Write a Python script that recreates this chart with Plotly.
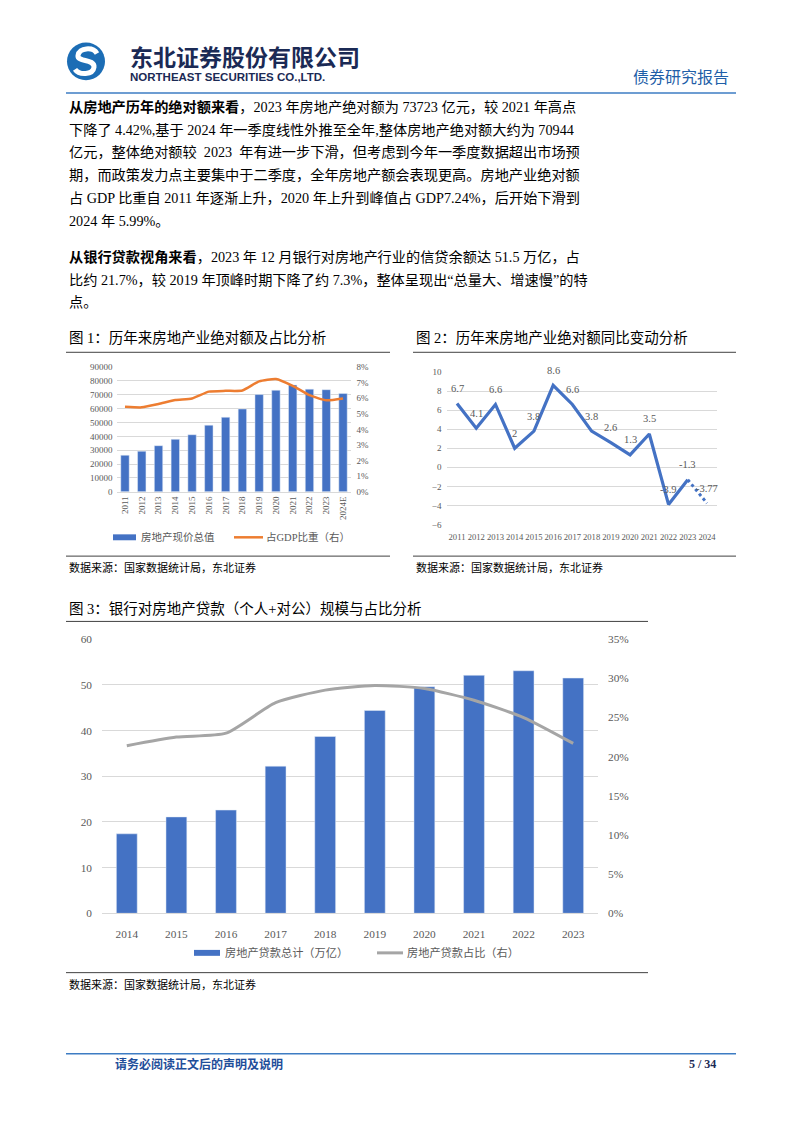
import plotly.graph_objects as go

W, H = 802, 1133

# ---------------- data ----------------
years1 = ["2011", "2012", "2013", "2014", "2015", "2016", "2017", "2018",
          "2019", "2020", "2021", "2022", "2023", "2024E"]
value1 = [26400, 29300, 33300, 37900, 41200, 48100, 53800, 59800,
          70200, 73300, 77130, 74100, 73723, 70944]
share1 = [5.46, 5.42, 5.63, 5.89, 5.99, 6.43, 6.48, 6.50,
          7.09, 7.24, 6.80, 6.20, 5.87, 5.99]

years2 = ["2011", "2012", "2013", "2014", "2015", "2016", "2017", "2018",
          "2019", "2020", "2021", "2022", "2023", "2024"]
yoy2 = [6.7, 4.1, 6.6, 2, 3.8, 8.6, 6.6, 3.8, 2.6, 1.3, 3.5, -3.9, -1.3, -3.77]
yoy2_labels = ["6.7", "4.1", "6.6", "2", "3.8", "8.6", "6.6", "3.8", "2.6",
               "1.3", "3.5", "-3.9", "-1.3", "-3.77"]

years3 = ["2014", "2015", "2016", "2017", "2018", "2019", "2020", "2021",
          "2022", "2023"]
loan3 = [17.4, 21.1, 22.6, 32.2, 38.7, 44.4, 49.6, 52.1, 53.1, 51.5]
share3 = [21.4, 22.5, 23.0, 26.9, 28.5, 29.1, 28.7, 27.2, 25.0, 21.7]

SERIF = "Liberation Serif, Noto Sans CJK SC, serif"
CJK = "Noto Sans CJK SC, sans-serif"
BLUE = "#4472C4"
ORANGE = "#ED7D31"
GRAY = "#A5A5A5"
TICK = "#595959"
GRID = "#D9D9D9"


def px(x):
    return x / W


def py(y):
    return 1 - y / H


fig = go.Figure()

# ---- chart 1 ----
fig.add_trace(go.Bar(x=years1, y=value1, marker_color=BLUE, width=0.5,
                     xaxis="x", yaxis="y", name="房地产现价总值"))
fig.add_trace(go.Scatter(x=years1, y=share1, mode="lines",
                         line=dict(color=ORANGE, width=2.5, shape="spline", smoothing=0.5),
                         xaxis="x", yaxis="y2", name="占GDP比重（右）"))

# ---- chart 2 ----
fig.add_trace(go.Scatter(x=years2[:13], y=yoy2[:13], mode="lines",
                         line=dict(color=BLUE, width=3.2),
                         xaxis="x2", yaxis="y3"))
fig.add_trace(go.Scatter(x=years2[12:], y=yoy2[12:], mode="lines",
                         line=dict(color=BLUE, width=3, dash="dot"),
                         xaxis="x2", yaxis="y3"))

# ---- chart 3 ----
fig.add_trace(go.Bar(x=years3, y=loan3, marker_color=BLUE, width=0.42,
                     xaxis="x3", yaxis="y4", name="房地产贷款总计（万亿）"))
fig.add_trace(go.Scatter(x=years3, y=share3, mode="lines",
                         line=dict(color=GRAY, width=3, shape="spline", smoothing=0.6),
                         xaxis="x3", yaxis="y5", name="房地产贷款占比（右）"))

tick9 = dict(size=9, color=TICK, family=SERIF)
tick11 = dict(size=11.3, color=TICK, family=SERIF)

fig.update_layout(
    width=W, height=H, margin=dict(l=0, r=0, t=0, b=0),
    paper_bgcolor="white", plot_bgcolor="white", showlegend=False,
    font=dict(family=SERIF, color=TICK),
    xaxis=dict(domain=[px(116.6), px(351.4)], anchor="y", type="category",
               tickangle=-90, tickfont=tick9, showgrid=False, showline=True,
               linecolor=GRID, ticks=""),
    yaxis=dict(domain=[py(491), py(365)], anchor="x", range=[0, 90000], dtick=10000,
               gridcolor=GRID, tickfont=tick9, zeroline=False, showline=False,
               tickformat="d", ticklabelstandoff=3),
    yaxis2=dict(overlaying="y", side="right", anchor="x", range=[0, 8], dtick=1,
                ticksuffix="%", showgrid=False, tickfont=tick9, zeroline=False,
                ticklabelstandoff=4),
    xaxis2=dict(domain=[px(447.4), px(716.6)], anchor="y3", type="category",
                categoryorder="array", categoryarray=years2,
                range=[-0.5, len(years2) - 0.5], autorange=False,
                tickangle=0, tickfont=dict(size=8.6, color=TICK, family=SERIF),
                showgrid=False, showline=False, ticks="", ticklabelstandoff=6),
    yaxis3=dict(domain=[py(524), py(370)], anchor="x2", range=[-6, 10], dtick=2,
                gridcolor=GRID, tickfont=tick9, zeroline=False, ticklabelstandoff=5),
    xaxis3=dict(domain=[px(102), px(598)], anchor="y4", type="category",
                tickfont=tick11, showgrid=False, showline=True, linecolor=GRID, ticks="",
                ticklabelstandoff=10),
    yaxis4=dict(domain=[py(917), py(640)], anchor="x3", range=[0, 60], dtick=10,
                gridcolor=GRID, tickfont=tick11, zeroline=False, ticklabelstandoff=9),
    yaxis5=dict(overlaying="y4", side="right", anchor="x3", range=[0, 35], dtick=5,
                ticksuffix="%", showgrid=False, tickfont=tick11, zeroline=False,
                ticklabelstandoff=9),
)

shapes = []
ann = []

# chart 2 data labels (x given as category index on the category axis)
for i, (yv, lab) in enumerate(zip(yoy2, yoy2_labels)):
    ann.append(dict(x=i, y=yv, xref="x2", yref="y3", text=lab, showarrow=False,
                    xanchor="center", yanchor="middle", yshift=15,
                    font=dict(size=10.5, color=TICK, family=SERIF)))


def hline(x0, x1, y, color, width):
    shapes.append(dict(type="line", xref="paper", yref="paper",
                       x0=px(x0), x1=px(x1), y0=py(y), y1=py(y),
                       line=dict(color=color, width=width)))


def rect(x0, y0, x1, y1, color):
    shapes.append(dict(type="rect", xref="paper", yref="paper",
                       x0=px(x0), x1=px(x1), y0=py(y0), y1=py(y1),
                       line=dict(width=0), fillcolor=color))


def txt(x, y, s, size, color="#000000", family=SERIF, anchor="left"):
    ann.append(dict(x=px(x), y=py(y), xref="paper", yref="paper", text=s,
                    showarrow=False, xanchor=anchor, yanchor="middle",
                    font=dict(size=size, color=color, family=family)))


# ---- header ----
shapes.append(dict(type="circle", xref="paper", yref="paper",
                   x0=px(67), x1=px(105), y0=py(37), y1=py(75),
                   fillcolor="#1C6DB5", line=dict(width=0)))


def path(points):
    d = "M {:.5f},{:.5f}".format(px(points[0][0]), py(points[0][1]))
    rest = points[1:]
    for i in range(0, len(rest), 3):
        seg = rest[i:i + 3]
        d += " C " + " ".join("{:.5f},{:.5f}".format(px(a), py(b)) for a, b in seg)
    return d


shapes.append(dict(type="path", xref="paper", yref="paper",
                   path=path([(97, 48), (93, 41), (79, 42), (78, 50),
                              (77, 57), (95, 53), (94, 62),
                              (93, 70), (79, 70), (75, 64)]),
                   line=dict(color="white", width=5)))
txt(128, 51, "<b>东北证券股份有限公司</b>", 23, "#1B2A55", CJK)
txt(128, 72, "<b>NORTHEAST SECURITIES CO.,LTD.</b>", 11.5, "#1B2A55",
    "Liberation Sans, Arial, sans-serif")
txt(731, 71, "债券研究报告", 16, "#1F5FA8", CJK, anchor="right")
hline(66, 736, 88, "#3D7CC3", 1.5)

# ---- body text ----
para1 = [
    "<b>从房地产历年的绝对额来看</b>，2023 年房地产绝对额为 73723 亿元，较 2021 年高点",
    "下降了 4.42%,基于 2024 年一季度线性外推至全年,整体房地产绝对额大约为 70944",
    "亿元，整体绝对额较  2023  年有进一步下滑，但考虑到今年一季度数据超出市场预",
    "期，而政策发力点主要集中于二季度，全年房地产额会表现更高。房地产业绝对额",
    "占 GDP 比重自 2011 年逐渐上升，2020 年上升到峰值占 GDP7.24%，后开始下滑到",
    "2024 年 5.99%。",
]
para2 = [
    "<b>从银行贷款视角来看</b>，2023 年 12 月银行对房地产行业的信贷余额达 51.5 万亿，占",
    "比约 21.7%，较 2019 年顶峰时期下降了约 7.3%，整体呈现出“总量大、增速慢”的特",
    "点。",
]
for i, s in enumerate(para1):
    txt(67, 102 + i * 23, s, 14.2)
for i, s in enumerate(para2):
    txt(67, 254 + i * 22.5, s, 14.2)

# ---- chart titles / separators ----
txt(67, 336, "图 1：历年来房地产业绝对额及占比分析", 14.5, "#000000")
txt(414, 336, "图 2：历年来房地产业绝对额同比变动分析", 14.5, "#000000")
hline(66, 390, 350, "#404040", 1)
hline(413, 736, 350, "#404040", 1)
hline(66, 390, 556, "#404040", 1)
hline(413, 736, 556, "#404040", 1)
txt(67, 568, "数据来源：国家数据统计局，东北证券", 11, "#000000")
txt(414, 568, "数据来源：国家数据统计局，东北证券", 11, "#000000")

# chart 1 legend
rect(113, 534, 136, 540, BLUE)
txt(139, 537, "房地产现价总值", 10.5, TICK)
hline(234, 263, 537, ORANGE, 2.5)
txt(264, 537, "占GDP比重（右）", 10.5, TICK)

# chart 3
txt(67, 609, "图 3：银行对房地产贷款（个人+对公）规模与占比分析", 14.5, "#000000")
hline(66, 648, 622, "#404040", 1)
rect(194, 954, 220, 960, BLUE)
txt(223, 957, "房地产贷款总计（万亿）", 11.2, TICK)
hline(377, 403, 957, GRAY, 3)
txt(405, 957, "房地产贷款占比（右）", 11.2, TICK)
hline(66, 648, 977, "#404040", 1)
txt(67, 989, "数据来源：国家数据统计局，东北证券", 11, "#000000")

# ---- footer ----
hline(66, 736, 1059, "#3D7CC3", 1.5)
txt(113, 1069, "<b>请务必阅读正文后的声明及说明</b>", 12, "#1F4E9A", CJK)
txt(718, 1069, "<b>5 / 34</b>", 12, "#1B2A55", anchor="right")

fig.update_layout(shapes=shapes, annotations=ann)
fig.write_html("out.html")
